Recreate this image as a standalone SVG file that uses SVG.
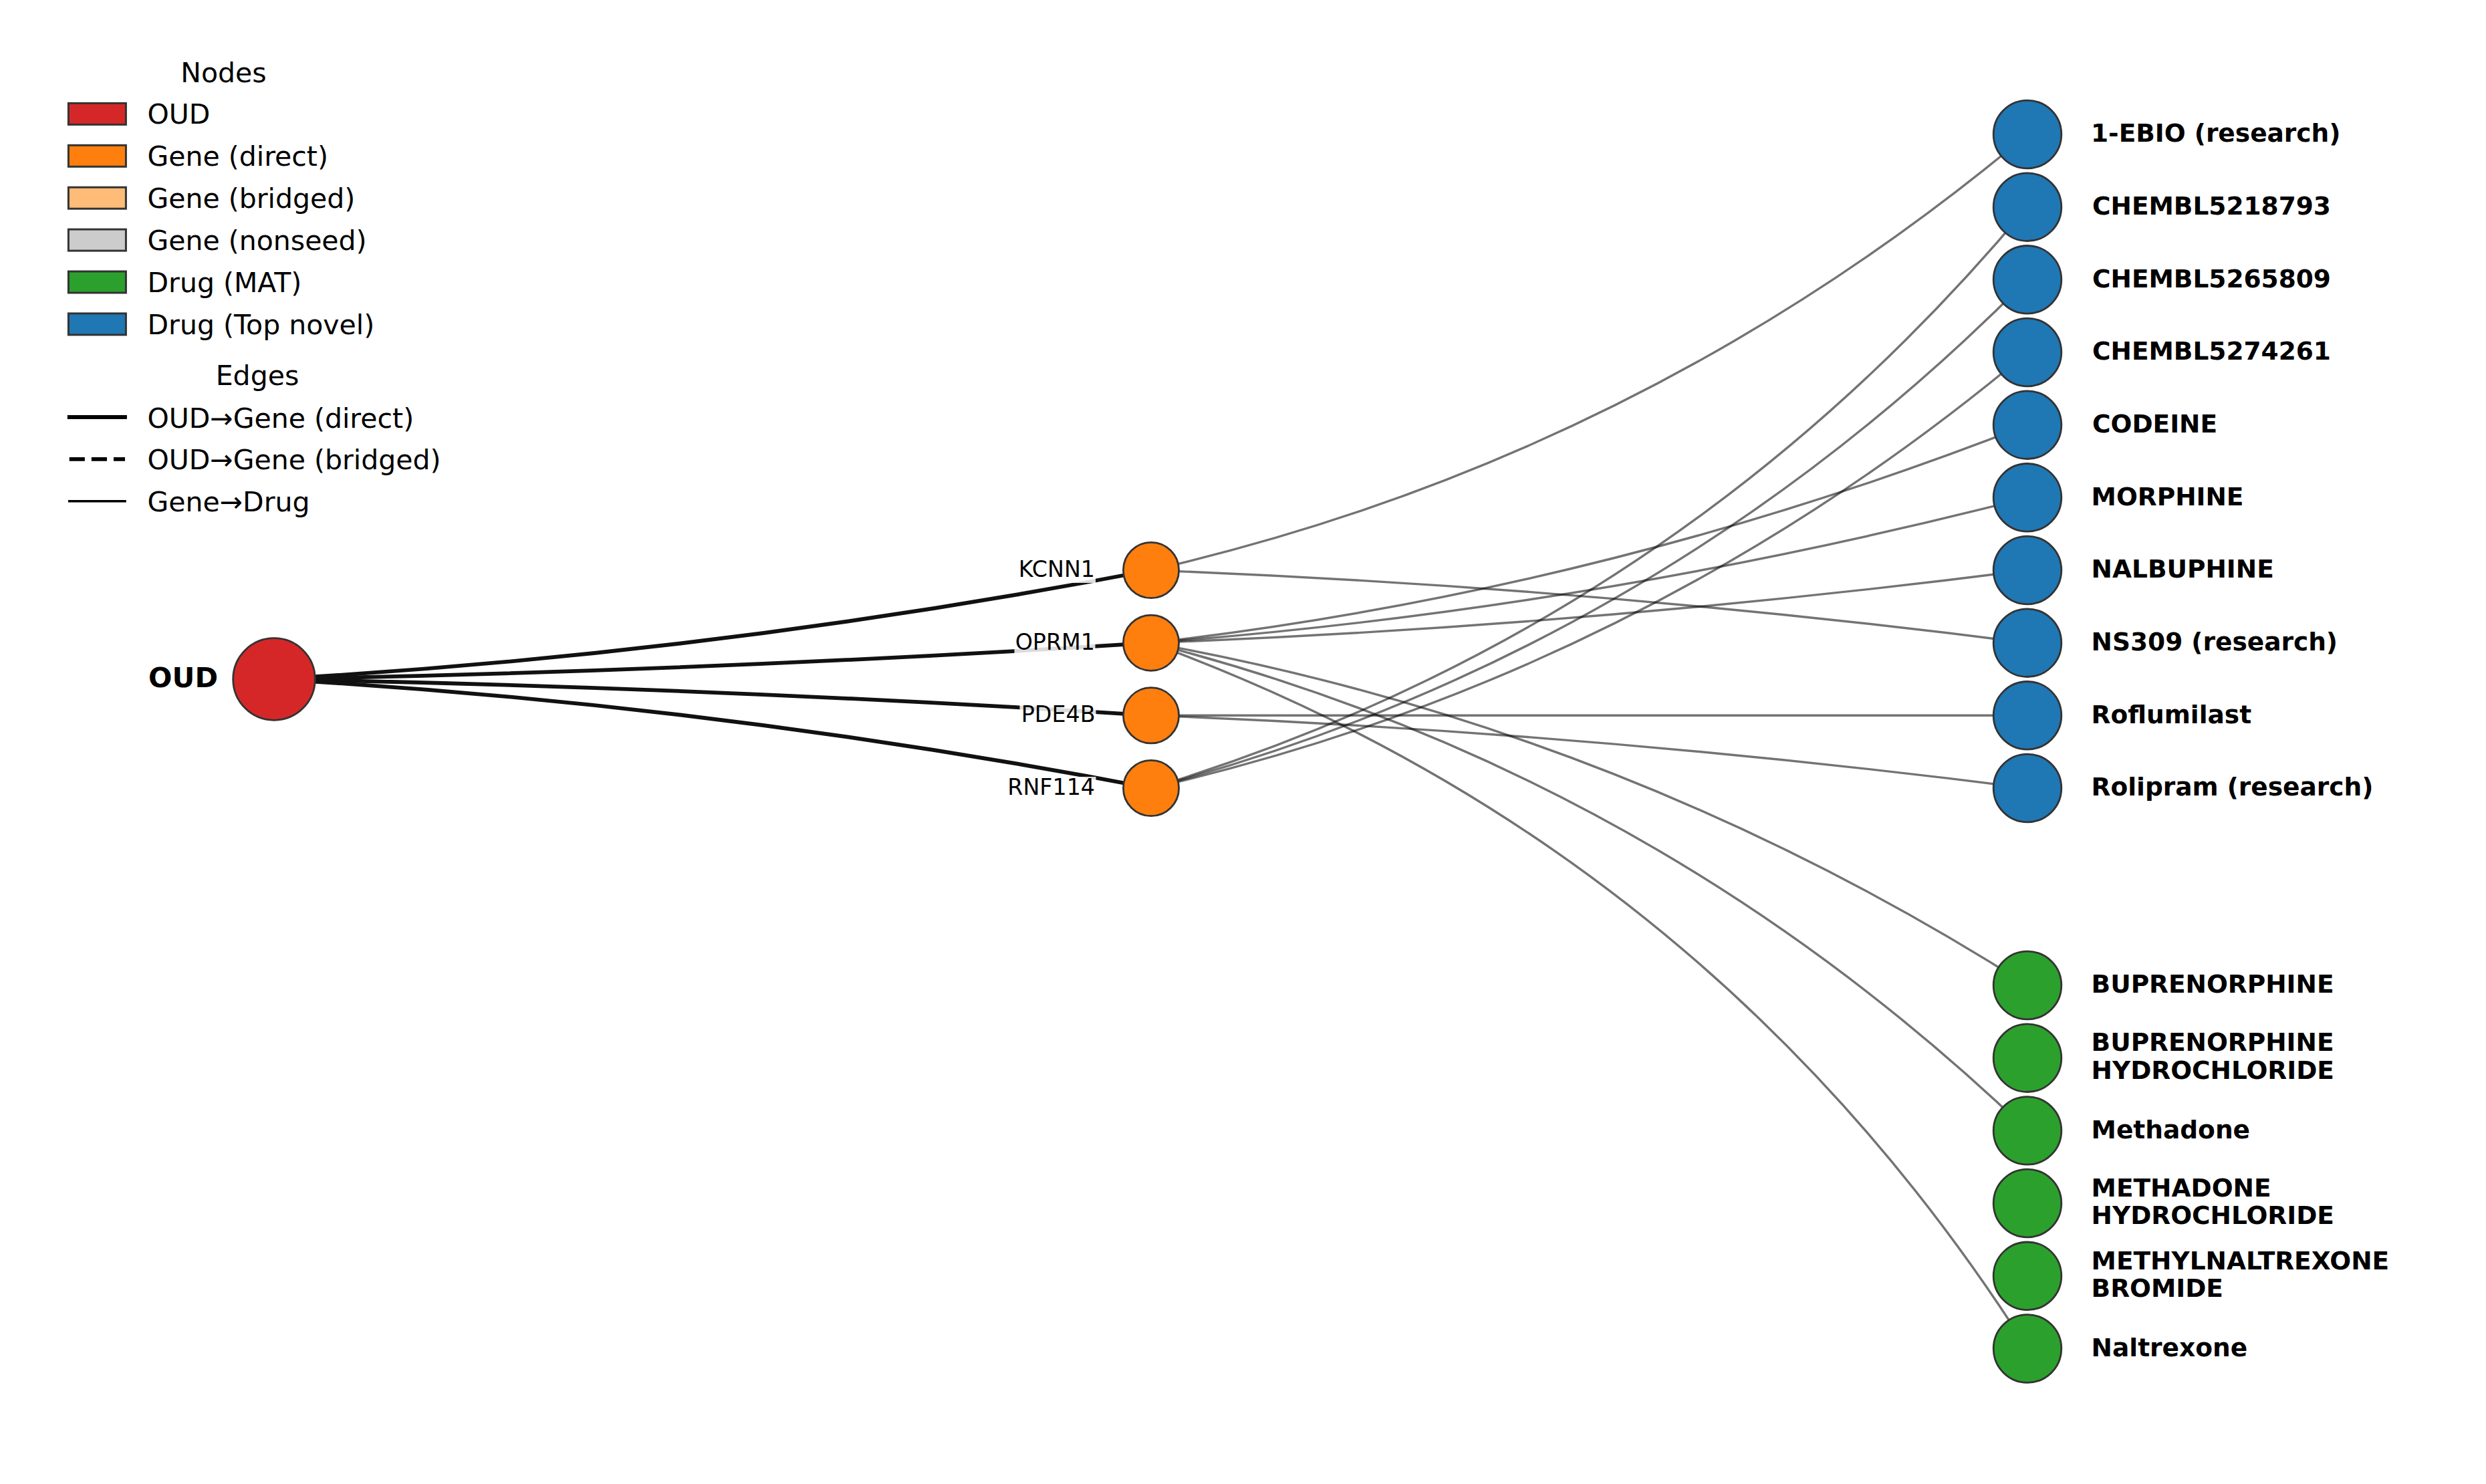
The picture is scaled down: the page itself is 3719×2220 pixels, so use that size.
<svg xmlns="http://www.w3.org/2000/svg" width="3719" height="2220" viewBox="0 0 3719 2220">
<style>
text{font-family:"DejaVu Sans","Liberation Sans",sans-serif;fill:#000}
.leg{font-size:41px}
.gl{font-size:33.3px;text-anchor:end}
.dl{font-size:37.5px;font-weight:bold}
.oud{font-size:41.7px;font-weight:bold;text-anchor:end}
.node{stroke:#333;stroke-width:2.8}
.e1{fill:none;stroke:#111;stroke-width:5.8}
.e2{fill:none;stroke:#000;stroke-opacity:0.55;stroke-width:3.4}
.lbox{fill:#fff;fill-opacity:0.85}
.patch{stroke:#333;stroke-width:3}
</style>
<rect width="3719" height="2220" fill="#fff"/>
<g id="legend">
<text class="leg" x="334.5" y="122.8" text-anchor="middle">Nodes</text>
<rect class="patch" x="102.4" y="154.4" width="86" height="32" fill="#d62728"/>
<text class="leg" x="220.5" y="185">OUD</text>
<rect class="patch" x="102.4" y="217.3" width="86" height="32" fill="#ff7f0e"/>
<text class="leg" x="220.5" y="247.9">Gene (direct)</text>
<rect class="patch" x="102.4" y="280.2" width="86" height="32" fill="#ffbb78"/>
<text class="leg" x="220.5" y="310.8">Gene (bridged)</text>
<rect class="patch" x="102.4" y="343.1" width="86" height="32" fill="#cccccc"/>
<text class="leg" x="220.5" y="373.7">Gene (nonseed)</text>
<rect class="patch" x="102.4" y="406" width="86" height="32" fill="#2ca02c"/>
<text class="leg" x="220.5" y="436.6">Drug (MAT)</text>
<rect class="patch" x="102.4" y="468.9" width="86" height="32" fill="#1f77b4"/>
<text class="leg" x="220.5" y="499.5">Drug (Top novel)</text>
<text class="leg" x="385" y="575.8" text-anchor="middle">Edges</text>
<line x1="103.75" y1="624" x2="187" y2="624" stroke="#000" stroke-width="5.8" stroke-linecap="square"/>
<text class="leg" x="220.5" y="639.5">OUD→Gene (direct)</text>
<line x1="103.75" y1="686.8" x2="187" y2="686.8" stroke="#000" stroke-width="5.8" stroke-dasharray="23.1 10"/>
<text class="leg" x="220.5" y="702.3">OUD→Gene (bridged)</text>
<line x1="103.75" y1="749.8" x2="187" y2="749.8" stroke="#000" stroke-width="3.6" stroke-linecap="square"/>
<text class="leg" x="220.5" y="765.2">Gene→Drug</text>
</g>
<g id="edges">
<path class="e1" d="M410 1016 Q1071.4 978.2 1722 853"/>
<path class="e1" d="M410 1016 Q1066.6 1003.5 1722 961.7"/>
<path class="e1" d="M410 1016 Q1066.6 1028.5 1722 1070.3"/>
<path class="e1" d="M410 1016 Q1071.4 1053.8 1722 1179"/>
<path class="e2" d="M1722 853 Q2455.9 684.6 3033 201"/>
<path class="e2" d="M1722 853 Q2379.9 878.1 3033 961.7"/>
<path class="e2" d="M1722 961.7 Q2398.7 884.1 3033 635.7"/>
<path class="e2" d="M1722 961.7 Q2387.1 910.9 3033 744.3"/>
<path class="e2" d="M1722 961.7 Q2379.9 936.6 3033 853"/>
<path class="e2" d="M1722 961.7 Q2427.9 1089 3033 1474"/>
<path class="e2" d="M1722 961.7 Q2473.3 1154.4 3033 1691.4"/>
<path class="e2" d="M1722 961.7 Q2556.3 1267.6 3033 2017.5"/>
<path class="e2" d="M1722 1070.3 L3033 1070.3"/>
<path class="e2" d="M1722 1070.3 Q2379.9 1095.4 3033 1179"/>
<path class="e2" d="M1722 1179 Q2507.2 939.9 3033 309.7"/>
<path class="e2" d="M1722 1179 Q2480.6 976.3 3033 418.3"/>
<path class="e2" d="M1722 1179 Q2455.9 1010.6 3033 527"/>
</g>
<g id="node-OUD"><circle class="node" cx="410" cy="1016" r="61.3" fill="#d62728"/><text class="oud" x="326" y="1028">OUD</text></g>
<g id="node-KCNN1"><circle class="node" cx="1722" cy="853" r="41.6" fill="#ff7f0e"/><rect class="lbox" x="1523" y="836" width="116" height="36"/><text class="gl" x="1638" y="863">KCNN1</text></g>
<g id="node-OPRM1"><circle class="node" cx="1722" cy="961.7" r="41.6" fill="#ff7f0e"/><rect class="lbox" x="1517.5" y="944.7" width="121" height="36"/><text class="gl" x="1638" y="971.7">OPRM1</text></g>
<g id="node-PDE4B"><circle class="node" cx="1722" cy="1070.3" r="41.6" fill="#ff7f0e"/><rect class="lbox" x="1525.5" y="1053.3" width="114" height="36"/><text class="gl" x="1638.5" y="1080.3">PDE4B</text></g>
<g id="node-RNF114"><circle class="node" cx="1722" cy="1179" r="41.6" fill="#ff7f0e"/><rect class="lbox" x="1506.5" y="1162" width="133" height="36"/><text class="gl" x="1638" y="1189">RNF114</text></g>
<g id="node-1-EBIO"><circle class="node" cx="3033" cy="201" r="50.8" fill="#1f77b4"/><text class="dl" x="3128" y="212.3">1-EBIO (research)</text></g>
<g id="node-CHEMBL5218793"><circle class="node" cx="3033" cy="309.7" r="50.8" fill="#1f77b4"/><text class="dl" x="3130" y="321">CHEMBL5218793</text></g>
<g id="node-CHEMBL5265809"><circle class="node" cx="3033" cy="418.3" r="50.8" fill="#1f77b4"/><text class="dl" x="3130" y="429.6">CHEMBL5265809</text></g>
<g id="node-CHEMBL5274261"><circle class="node" cx="3033" cy="527" r="50.8" fill="#1f77b4"/><text class="dl" x="3130" y="538.3">CHEMBL5274261</text></g>
<g id="node-CODEINE"><circle class="node" cx="3033" cy="635.7" r="50.8" fill="#1f77b4"/><text class="dl" x="3130" y="647">CODEINE</text></g>
<g id="node-MORPHINE"><circle class="node" cx="3033" cy="744.3" r="50.8" fill="#1f77b4"/><text class="dl" x="3128.6" y="755.6">MORPHINE</text></g>
<g id="node-NALBUPHINE"><circle class="node" cx="3033" cy="853" r="50.8" fill="#1f77b4"/><text class="dl" x="3128.6" y="864.3">NALBUPHINE</text></g>
<g id="node-NS309"><circle class="node" cx="3033" cy="961.7" r="50.8" fill="#1f77b4"/><text class="dl" x="3128.6" y="973">NS309 (research)</text></g>
<g id="node-Roflumilast"><circle class="node" cx="3033" cy="1070.3" r="50.8" fill="#1f77b4"/><text class="dl" x="3128.6" y="1081.6">Roflumilast</text></g>
<g id="node-Rolipram"><circle class="node" cx="3033" cy="1179" r="50.8" fill="#1f77b4"/><text class="dl" x="3128.6" y="1190.3">Rolipram (research)</text></g>
<g id="node-BUPRENORPHINE"><circle class="node" cx="3033" cy="1474" r="50.8" fill="#2ca02c"/><text class="dl" x="3128.6" y="1485.3">BUPRENORPHINE</text></g>
<g id="node-BUPRENORPHINE-HCl"><circle class="node" cx="3033" cy="1582.7" r="50.8" fill="#2ca02c"/><text class="dl" x="3128.6" y="1572.4">BUPRENORPHINE</text><text class="dl" x="3128.6" y="1614">HYDROCHLORIDE</text></g>
<g id="node-Methadone"><circle class="node" cx="3033" cy="1691.4" r="50.8" fill="#2ca02c"/><text class="dl" x="3128.6" y="1702.7">Methadone</text></g>
<g id="node-METHADONE-HCl"><circle class="node" cx="3033" cy="1800" r="50.8" fill="#2ca02c"/><text class="dl" x="3128.6" y="1789.7">METHADONE</text><text class="dl" x="3128.6" y="1831.3">HYDROCHLORIDE</text></g>
<g id="node-METHYLNALTREXONE"><circle class="node" cx="3033" cy="1908.8" r="50.8" fill="#2ca02c"/><text class="dl" x="3128.6" y="1898.5">METHYLNALTREXONE</text><text class="dl" x="3128.6" y="1940.1">BROMIDE</text></g>
<g id="node-Naltrexone"><circle class="node" cx="3033" cy="2017.5" r="50.8" fill="#2ca02c"/><text class="dl" x="3128.6" y="2028.8">Naltrexone</text></g>
</svg>
